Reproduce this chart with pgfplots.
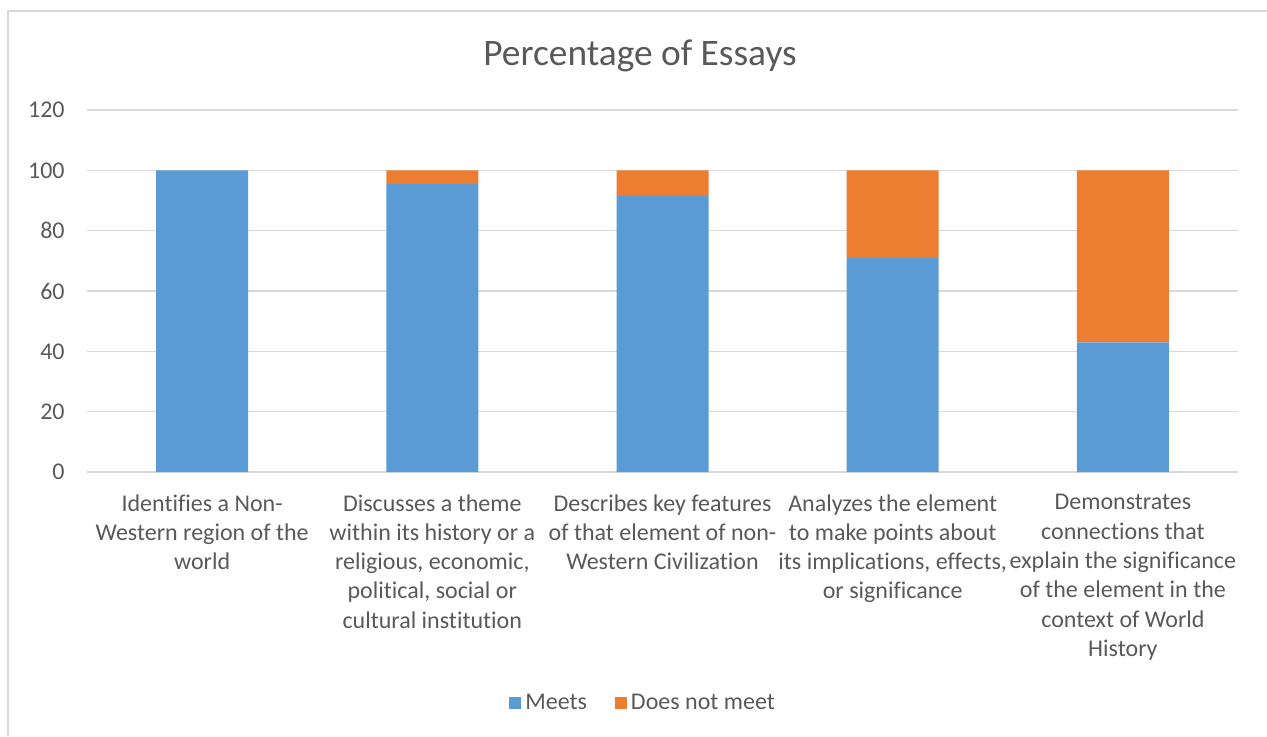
\documentclass[border=0pt]{standalone}
\usepackage{pgfplots}
\pgfplotsset{compat=1.18}
\usepackage{fontspec}
\setmainfont{Carlito}[Ligatures=NoCommon]
\definecolor{meets}{HTML}{5B9BD5}
\definecolor{notmeet}{HTML}{ED7D31}
\definecolor{txt}{HTML}{595959}
\definecolor{gridc}{HTML}{D9D9D9}

\begin{document}
\begin{tikzpicture}
\useasboundingbox (0,0) rectangle (633.5pt,368pt);
% chart frame
\draw[gridc, line width=0.75pt] (4pt,0) -- (4pt,362.5pt) -- (633.5pt,362.5pt);
% title
\node[font=\fontsize{18.7}{22}\selectfont, text=txt] at (320pt,340pt) {Percentage of Essays};
\begin{axis}[
  at={(43.5pt,132pt)}, anchor=south west,
  scale only axis, width=575.5pt, height=181pt,
  ybar stacked, bar width=46pt,
  xmin=-0.5, xmax=4.5, ymin=0, ymax=120,
  xtick=data, ytick={0,20,...,120},
  axis line style={draw=none},
  major tick length=0pt,
  ymajorgrids, grid style={gridc, line width=0.75pt},
  /pgf/number format/assume math mode=true,
  yticklabel style={font=\fontsize{12}{14}\selectfont, text=txt, anchor=east, inner sep=0pt, xshift=-11pt},
  xticklabel style={font=\fontsize{12}{14.65}\selectfont, text=txt, align=center, anchor=north, inner sep=0pt, yshift=-11pt},
  xticklabels={
    {Identifies a Non-\\Western region of the\\world},
    {Discusses a theme\\within its history or a\\religious, economic,\\political, social or\\cultural institution},
    {Describes key features\\of that element of non-\\Western Civilization},
    {Analyzes the element\\to make points about\\its implications, effects,\\or significance},
    {Demonstrates\\connections that\\explain the significance\\of the element in the\\context of World\\History}
  },
  legend columns=2,
  legend style={at={(0.484,-0.638)}, anchor=center, draw=none, fill=none,
    font=\fontsize{12}{14}\selectfont, text=txt,
    /tikz/every even column/.append style={column sep=12pt}},
  legend image code/.code={\fill[#1] (0pt,-3pt) rectangle (6pt,3pt);},
]
\addplot[fill=meets, draw=none] coordinates {(0,100) (1,95.5) (2,91.5) (3,71) (4,43)};
\addplot[fill=notmeet, draw=none] coordinates {(0,0) (1,4.5) (2,8.5) (3,29) (4,57)};
\legend{Meets, Does not meet}
\end{axis}
\end{tikzpicture}
\end{document}
